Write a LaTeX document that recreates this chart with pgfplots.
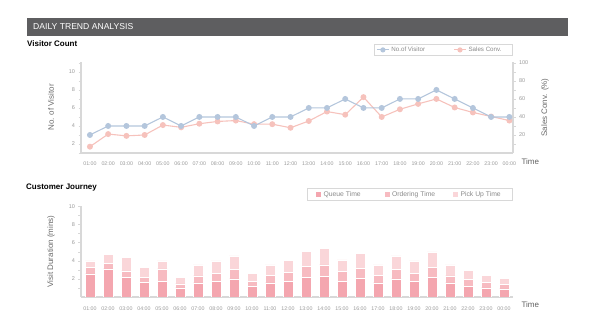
\documentclass[border=0pt]{standalone}
\usepackage{pgfplots}
\pgfplotsset{compat=1.18}
\usepackage{pgfplotstable}
\usepackage{fontspec}
\setmainfont{Liberation Sans}

\definecolor{hdr}{HTML}{5E5E60}
\definecolor{vis}{HTML}{B4C6DC}
\definecolor{sal}{HTML}{F6C2BC}
\definecolor{qt}{HTML}{F4A6AF}
\definecolor{ot}{HTML}{F7BBC1}
\definecolor{pt}{HTML}{FAD6D9}
\definecolor{axl}{HTML}{D8D8D8}
\definecolor{tkl}{HTML}{9A9A9A}
\definecolor{lbl}{HTML}{6A6A6A}

\pgfplotstableread{
x vis sal
0 3 7
1 4 21
2 4 19
3 4 20
4 5 31
5 4 28.5
6 5 32.5
7 5 35
8 5 36
9 4 32
10 5 32
11 5 28
12 6 35.5
13 6 46
14 7 42.5
15 6 62
16 6 40
17 7 48.5
18 7 54.5
19 8 60
20 7 50.5
21 6 45
22 5 40.5
23 5 36
}\visitors

\pgfplotstableread{
x q o p
0 2.55 0.75 0.70
1 3.10 0.66 0.96
2 2.20 0.70 1.45
3 1.65 0.55 1.10
4 1.75 1.35 0.90
5 1.00 0.45 0.70
6 1.55 0.80 1.20
7 1.75 0.90 1.35
8 2.00 1.05 1.50
9 1.15 0.60 0.90
10 1.55 0.85 1.15
11 1.75 1.00 1.30
12 2.15 1.20 1.70
13 2.30 1.25 1.80
14 1.75 1.05 1.30
15 2.05 1.15 1.65
16 1.55 0.85 1.15
17 2.00 1.05 1.50
18 1.75 0.90 1.35
19 2.20 1.10 1.70
20 1.55 0.80 1.20
21 1.20 0.75 1.00
22 1.00 0.60 0.80
23 0.90 0.50 0.70
}\journey

\pgfplotsset{
  base/.style={
    scale only axis, width=432pt, height=91pt,
    xtick={0,...,23},
    xticklabels={01:00,02:00,03:00,04:00,05:00,06:00,07:00,08:00,09:00,10:00,11:00,12:00,13:00,14:00,15:00,16:00,17:00,18:00,19:00,20:00,21:00,22:00,23:00,00:00},
    axis line style={axl, line width=1.1pt, -},
    tick style={axl, line width=0.6pt},
    tick align=outside, major tick length=2.5pt, minor tick length=2.5pt,
    xtick style={draw=none},
    ticklabel style={font=\fontsize{5.3}{6}\selectfont, text=tkl},
    xticklabel style={anchor=center, yshift=-8pt},
    /pgf/number format/assume math mode=true,
    label style={font=\fontsize{8}{9}\selectfont, text=lbl},
    xlabel style={at={(axis description cs:1,0)}, anchor=west, xshift=5pt, yshift=-9pt, text=lbl!90!black},
  }
}

\begin{document}
\begin{tikzpicture}[x=1pt,y=1pt]
\fill[hdr] (27,292) rectangle (568,310);
\node[anchor=west, text=white, font=\fontsize{8.6}{10}\selectfont, inner sep=0] at (33,301) {DAILY TREND ANALYSIS};
\node[anchor=west, font=\bfseries\fontsize{8}{9}\selectfont, inner sep=0] at (27,284) {Visitor Count};
\node[anchor=west, font=\bfseries\fontsize{8}{9}\selectfont, inner sep=0] at (26,140) {Customer Journey};

% top chart: right axis (Sales Conv.)
\begin{axis}[base, at={(81pt,175pt)}, anchor=south west,
  xmin=-0.49, xmax=23.2, ymin=0, ymax=101,
  axis y line*=right, axis x line=none,
  ytick={20,40,...,100}, minor ytick={10,30,...,90},
  ylabel={Sales Conv. (\%)},
  ylabel style={at={(axis description cs:1.074,0.5)}, anchor=center},
  yticklabel style={font=\fontsize{5.5}{6}\selectfont}]
\addplot[sal, line width=1.1pt, mark=*, mark size=2.4pt, mark options={fill=sal, draw=sal}] table[x=x,y=sal]{\visitors};
\end{axis}

% top chart: left axis (visitors)
\begin{axis}[base, at={(81pt,175pt)}, anchor=south west,
  xmin=-0.49, xmax=23.2, ymin=1, ymax=11.1,
  axis y line*=left, axis x line*=bottom,
  ytick={2,4,...,10}, minor ytick={1,3,...,11},
  ylabel={No. of Visitor}, xlabel={Time},
  ylabel style={at={(axis description cs:-0.0694,0.5)}, anchor=center},
  yticklabel style={font=\fontsize{5.5}{6}\selectfont},
  legend style={at={(axis description cs:1,1.198)}, anchor=north east,
    draw=axl, line width=0.9pt, font=\fontsize{6.2}{7}\selectfont, text=tkl!90!black,
    legend columns=-1, inner xsep=2pt, inner ysep=0.5pt},
  legend image code/.code={\draw[#1, mark size=2pt, mark repeat=2, mark phase=2] plot coordinates {(0pt,0pt) (6pt,0pt) (12pt,0pt)};}]
\addplot[vis, line width=1.1pt, mark=*, mark size=2.4pt, mark options={fill=vis, draw=vis}] table[x=x,y=vis]{\visitors};
\addlegendentry{\makebox[60pt][l]{No.of Visitor}}
\addlegendimage{sal, line width=1.1pt, mark=*, mark options={fill=sal, draw=sal}}
\addlegendentry{\makebox[40pt][l]{Sales Conv.}}
\end{axis}

% bottom chart
\begin{axis}[base, at={(81pt,31pt)}, anchor=south west,
  xmin=-0.5, xmax=23.5, ymin=0, ymax=10.07,
  axis y line*=left, axis x line*=bottom,
  ybar stacked, bar width=10pt,
  ytick={2,4,...,10}, minor ytick={1,3,...,9},
  ylabel={Visit Duration (mins)}, xlabel={Time},
  ylabel style={at={(axis description cs:-0.0694,0.5)}, anchor=center},
  xticklabel style={yshift=-1pt},
  xlabel style={yshift=1pt},
  yticklabel style={font=\fontsize{5.5}{6}\selectfont},
  legend style={at={(axis description cs:1,1.198)}, anchor=north east,
    draw=axl, line width=0.9pt, font=\fontsize{6.8}{7.5}\selectfont, text=tkl!90!black,
    legend columns=-1, inner xsep=8pt, inner ysep=1pt},
  legend image code/.code={\fill[#1] (0pt,-3pt) rectangle (6pt,3pt);}]
\addplot[fill=qt, draw=white, line width=0.5pt] table[x=x,y=q]{\journey};
\addlegendentry{\makebox[58pt][l]{Queue Time}}
\addplot[fill=ot, draw=white, line width=0.5pt] table[x=x,y=o]{\journey};
\addlegendentry{\makebox[58pt][l]{Ordering Time}}
\addplot[fill=pt, draw=white, line width=0.5pt] table[x=x,y=p]{\journey};
\addlegendentry{\makebox[42pt][l]{Pick Up Time}}
\end{axis}

\pgfresetboundingbox
\path[use as bounding box] (0,0) rectangle (595,328);
\end{tikzpicture}
\end{document}
